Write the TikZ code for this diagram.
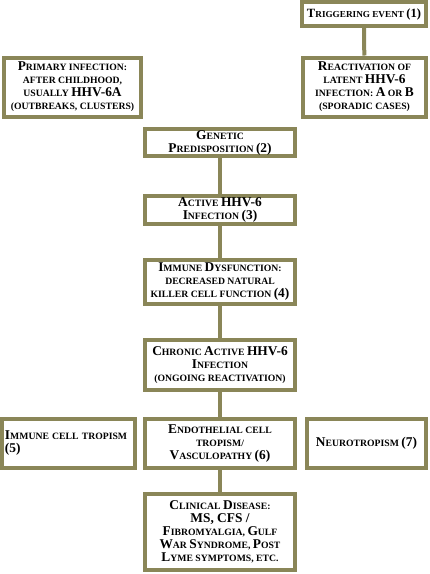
\documentclass[tikz,border=0pt]{standalone}
\usepackage{fontspec}
\setmainfont{Liberation Serif}
\usepackage{xcolor}
\usetikzlibrary{positioning}
\definecolor{olive}{RGB}{138,134,88}
\newcommand{\bc}[1]{{\fontsize{13.4}{13}\selectfont #1}}
\tikzset{
  fbox/.style={rectangle,draw=olive,line width=4pt,fill=white,inner sep=1pt,align=center,
    font=\bfseries\fontsize{9.7}{13}\selectfont},
  wide/.style={fbox,minimum width=150pt},
  link/.style={line width=4pt,olive}
}
\begin{document}
\begin{tikzpicture}[x=1pt,y=-1pt]
  \useasboundingbox (0,0) rectangle (430,574);

  \node[fbox,minimum width=124pt,minimum height=24pt,font=\bfseries\fontsize{9.2}{13}\selectfont] (trig) at (364,14)
    {{\fontsize{12.6}{13}\selectfont T}RIGGERING EVENT {\fontsize{12.6}{13}\selectfont (1)}};
  \node[fbox,minimum width=123pt,minimum height=59pt] (react) at (364.5,87)
    {\bc{R}EACTIVATION OF\\ LATENT \bc{HHV-6}\\ INFECTION: \bc{A} OR \bc{B}\\ (SPORADIC CASES)};
  \node[fbox,minimum width=137pt,minimum height=59pt] (prim) at (72.5,87)
    {\bc{P}RIMARY INFECTION:\\ AFTER CHILDHOOD,\\ USUALLY \bc{HHV-6A}\\ (OUTBREAKS, CLUSTERS)};
  \draw[link] (trig) -- (react);

  \node[wide,minimum height=27pt] (gen) at (220,142.5) {\bc{G}ENETIC\\ \bc{P}REDISPOSITION \bc{(2)}};
  \node[wide,minimum height=28pt] (act) at (220,210) {\bc{A}CTIVE \bc{HHV-6}\\ \bc{I}NFECTION \bc{(3)}};
  \node[wide,minimum height=44pt] (imm) at (220,282)
    {\bc{I}MMUNE \bc{D}YSFUNCTION:\\ DECREASED NATURAL\\ KILLER CELL FUNCTION \bc{(4)}};
  \node[wide,minimum height=50pt] (chron) at (220,365)
    {\bc{C}HRONIC \bc{A}CTIVE \bc{HHV-6}\\ \bc{I}NFECTION\\ (ONGOING REACTIVATION)};

  \node[fbox,minimum width=133pt,minimum height=49pt,text width=127pt,align=left] (ict) at (68.5,443.5)
    {\bc{I}MMUNE CELL TROPISM\\ \bc{(5)}};
  \node[wide,minimum height=49pt] (endo) at (220,443.5)
    {\bc{E}NDOTHELIAL CELL\\ TROPISM/\\ \bc{V}ASCULOPATHY \bc{(6)}};
  \node[fbox,minimum width=119pt,minimum height=49pt] (neuro) at (366.5,443.5)
    {\bc{N}EUROTROPISM \bc{(7)}};

  \node[wide,minimum height=76pt] (clin) at (220,532)
    {\bc{C}LINICAL \bc{D}ISEASE:\\ \bc{MS, CFS /}\\ \bc{F}IBROMYALGIA, \bc{G}ULF\\
     \bc{W}AR \bc{S}YNDROME, \bc{P}OST\\ \bc{L}YME SYMPTOMS, ETC.};

  \draw[link] (gen) -- (act);
  \draw[link] (act) -- (imm);
  \draw[link] (imm) -- (chron);
  \draw[link] (chron) -- (endo);
  \draw[link] (endo) -- (clin);
\end{tikzpicture}
\end{document}
